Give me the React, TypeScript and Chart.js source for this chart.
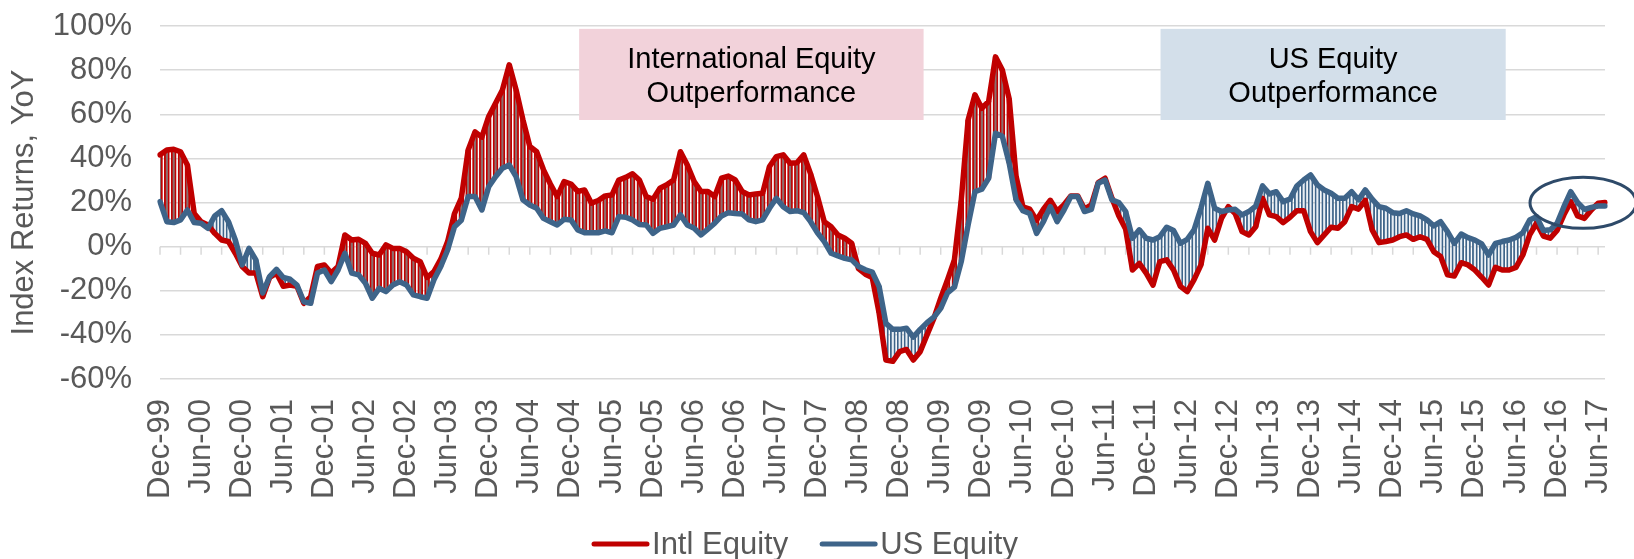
import React, { useEffect, useRef } from 'react';
import { Chart, registerables } from 'chart.js';

Chart.register(...registerables);

const FONT = '"Liberation Sans", Arial, sans-serif';
const TEXT_GRAY = '#595959';
const GRID_GRAY = '#D9D9D9';
const RED = '#C00000';
const BLUE = '#3E6489';

const monthNames = ['Jan', 'Feb', 'Mar', 'Apr', 'May', 'Jun', 'Jul', 'Aug', 'Sep', 'Oct', 'Nov', 'Dec'];

// Monthly categories, Dec-99 .. Jul-17
const categories: string[] = Array.from({ length: 212 }, (_, i) => {
  const k = 11 + i;
  return monthNames[k % 12] + '-' + String((99 + Math.floor(k / 12)) % 100).padStart(2, '0');
});

// Intl Equity YoY returns (%)
const intlEquity: number[] = [
  41.6, 43.8, 44.1, 43, 37, 15, 11.3, 9.8, 6, 3,
  2.3, -3, -9, -12, -12, -22.7, -14, -12, -18, -17.4,
  -18, -25.7, -22.7, -9, -8.3, -12, -9, 5.3, 3, 3.3,
  1.5, -3, -3.8, 0.8, -0.8, -0.8, -2.3, -5.3, -6.8, -14,
  -11.3, -5.7, 2.3, 15, 22, 43.8, 52, 49.6, 59, 65,
  71, 82.4, 71, 57.4, 45.4, 43, 34.8, 28.4, 22.7, 29.5,
  28.4, 25, 25.7, 19.7, 20.9, 23, 23.4, 30.2, 31.4, 33,
  30.2, 22.7, 21.5, 26.5, 28, 30.2, 43, 37, 29.5, 25,
  25, 22.7, 31, 32, 30.2, 25, 23.4, 23.9, 24.2, 36.3,
  40.8, 41.6, 37.8, 38, 41.6, 33, 22.7, 11.3, 9, 5.3,
  3.8, 1.5, -10, -12.5, -14, -30, -51.4, -52, -47.6, -46.6,
  -51.4, -47.6, -40, -32.5, -23.4, -15, -6, 21, 57.4, 68.8,
  62.7, 65.8, 86, 80, 67, 32, 18, 17, 12, 17,
  21, 16, 19, 23, 23, 17, 19, 29, 31, 22,
  14, 8, -10.6, -7.6, -12, -17.4, -6.8, -6, -10.6, -18,
  -20.4, -15, -8.3, 8.3, 3, 12.8, 18.1, 15, 6.8, 5.3,
  9, 21.9, 14.4, 13.6, 10.9, 13.3, 16.3, 16.3, 6.8, 1.8,
  5.3, 8.8, 8.3, 11.3, 18.1, 17, 21, 7.6, 1.8, 2.3,
  3, 4.5, 5.3, 3.3, 4.5, 3.3, -2.3, -4.5, -12.8, -13.3,
  -7.3, -8.3, -10.6, -13.9, -17.4, -9.4, -10.6, -10.6, -9.4, -3.8,
  5.3, 10.6, 4.8, 3.8, 7.3, 14.4, 20.4, 13.9, 12.8, 16.6,
  19.7, 20,
];

// US Equity YoY returns (%)
const usEquity: number[] = [
  20.4, 11.3, 10.9, 12.1, 16.6, 10.9, 10.6, 8.3, 13.9, 16.3,
  11.3, 3, -8.3, -0.8, -6, -21, -13.6, -10.3, -14, -14.8,
  -17.4, -25, -25.7, -12, -10.6, -15.9, -10.6, -3, -12, -12.8,
  -16.6, -23.4, -18.9, -20.4, -17.4, -15.9, -17.4, -21.9, -22.7, -23.4,
  -15, -9, -1.5, 9, 12, 22.7, 22.7, 16.6, 27.2, 31.7,
  35.5, 37, 31.7, 21.2, 18.9, 17.4, 12.8, 11.3, 9.8, 12.4,
  12.1, 7.6, 6.3, 6.3, 6.3, 7.1, 6.3, 13.6, 13.3, 12.1,
  10, 9.8, 6, 8.3, 9, 9.8, 14.4, 9.8, 8.3, 5.3,
  7.9, 10.6, 13.9, 15.4, 15, 14.8, 12.1, 11.3, 12.1, 17.4,
  21.9, 18.1, 15.9, 16.3, 15.4, 11.3, 6.3, 2.3, -3, -4.2,
  -5.3, -6, -9, -10.5, -11.5, -18, -34.8, -37.5, -37.5, -37,
  -41, -37.5, -34.5, -32, -28, -20.9, -18.4, -6.8, 9.8, 24.9,
  26, 31, 51.4, 50, 37.8, 21.2, 16.3, 15, 6, 11.3,
  18.1, 11.3, 16.6, 22.7, 22.7, 15.9, 16.9, 28.7, 30.2, 21.2,
  20, 16, 3.8, 7.6, 3.8, 3, 4.5, 8.8, 7.3, 1.5,
  3.3, 7.6, 17.4, 28.7, 17.4, 15.9, 16.6, 16.9, 14.4, 15.9,
  18.4, 27.5, 23.9, 24.9, 20.4, 21.5, 27.5, 30.2, 32.5, 28,
  25.7, 24.2, 21.9, 21.9, 24.9, 21.2, 25.7, 21.5, 18.1, 17.4,
  15.4, 15, 16.3, 14.8, 13.9, 12.1, 9.4, 11.3, 6.8, 1.5,
  5.7, 4.1, 3, 1.2, -3.8, 1.5, 2.3, 3, 4.2, 6.3,
  12.1, 13.6, 7.3, 7.6, 10.6, 18.1, 24.9, 20, 16.9, 17.8,
  18.4, 18.4,
];

const seriesNames = ['Intl Equity', 'US Equity'];
const yTicks = { min: -60, max: 100, step: 20 };

// Annotation boxes (in data units of the chart)
const annotationBoxes = [
  { lines: ['International Equity', 'Outperformance'], x0: 61.2, x1: 111.5, y0: 98.7, y1: 57.4, fill: '#F2D2DA' },
  { lines: ['US Equity', 'Outperformance'], x0: 146.1, x1: 196.5, y0: 98.7, y1: 57.4, fill: '#D3DFEA' },
];
const highlightEllipse = { x: 207.8, y: 19.9, dx: 7.75, dy: 11.6, color: '#2E4A69' };

const spread = intlEquity.map((v, i) => [Math.min(v, usEquity[i]), Math.max(v, usEquity[i])]);
const intlAbove = intlEquity.map((v, i) => v > usEquity[i]);

const decorPlugin = {
  id: 'decor',
  beforeDatasetsDraw(chart: any) {
    const { ctx, scales } = chart;
    const x = scales.x;
    const y = scales.y;
    ctx.save();
    annotationBoxes.forEach((b) => {
      const l = x.getPixelForValue(b.x0);
      const r = x.getPixelForValue(b.x1);
      const t = y.getPixelForValue(b.y0);
      const bt = y.getPixelForValue(b.y1);
      ctx.fillStyle = b.fill;
      ctx.fillRect(l, t, r - l, bt - t);
      ctx.fillStyle = '#000000';
      ctx.font = '29px ' + FONT;
      ctx.textAlign = 'center';
      ctx.textBaseline = 'alphabetic';
      const cx = (l + r) / 2;
      const cy = (t + bt) / 2;
      const capH = 0.716 * 29;
      const lh = 34;
      b.lines.forEach((s, k) => {
        ctx.fillText(s, cx, cy + capH / 2 + (k - (b.lines.length - 1) / 2) * lh);
      });
    });
    // tick marks on the zero axis, every 3 months
    const y0 = y.getPixelForValue(0);
    ctx.strokeStyle = GRID_GRAY;
    ctx.lineWidth = 1.5;
    ctx.beginPath();
    for (let i = 0; i < categories.length; i += 3) {
      const px = x.getPixelForValue(i);
      ctx.moveTo(px, y0);
      ctx.lineTo(px, y0 + 8);
    }
    ctx.stroke();
    ctx.restore();
  },
  afterDatasetsDraw(chart: any) {
    const { ctx, scales } = chart;
    const x = scales.x;
    const y = scales.y;
    const e = highlightEllipse;
    const cx = x.getPixelForValue(e.x);
    const cy = y.getPixelForValue(e.y);
    const rx = x.getPixelForValue(e.x + e.dx) - cx;
    const ry = cy - y.getPixelForValue(e.y + e.dy);
    ctx.save();
    ctx.strokeStyle = e.color;
    ctx.lineWidth = 3;
    ctx.beginPath();
    ctx.ellipse(cx, cy, rx, ry, 0, 0, Math.PI * 2);
    ctx.stroke();
    ctx.restore();
  },
  afterDraw(chart: any) {
    const { ctx } = chart;
    const colors = [RED, BLUE];
    ctx.save();
    ctx.font = '31px ' + FONT;
    const lineW = 57;
    const gapText = 3;
    const gapItem = 32;
    const widths = seriesNames.map((s) => ctx.measureText(s).width);
    const total = widths.reduce((a, w) => a + lineW + gapText + w, 0) + gapItem * (seriesNames.length - 1);
    let px = 805 - total / 2;
    const ly = 544;
    seriesNames.forEach((s, k) => {
      ctx.strokeStyle = colors[k];
      ctx.lineWidth = 5;
      ctx.lineCap = 'round';
      ctx.beginPath();
      ctx.moveTo(px + 2, ly);
      ctx.lineTo(px + lineW - 2, ly);
      ctx.stroke();
      px += lineW + gapText;
      ctx.fillStyle = TEXT_GRAY;
      ctx.textAlign = 'left';
      ctx.textBaseline = 'alphabetic';
      ctx.fillText(s, px, 554);
      px += widths[k] + gapItem;
    });
    ctx.restore();
  },
};

export default function App() {
  const ref = useRef<HTMLCanvasElement>(null);
  useEffect(() => {
    document.body.style.margin = '0';
    const chart = new Chart(ref.current as HTMLCanvasElement, {
      type: 'line',
      data: {
        labels: categories,
        datasets: [
          {
            type: 'line',
            label: seriesNames[1],
            data: usEquity,
            borderColor: BLUE,
            borderWidth: 5.5,
            pointRadius: 0,
            tension: 0,
            borderJoinStyle: 'round',
            borderCapStyle: 'round',
            fill: false,
            order: 1,
          },
          {
            type: 'line',
            label: seriesNames[0],
            data: intlEquity,
            borderColor: RED,
            borderWidth: 5.5,
            pointRadius: 0,
            tension: 0,
            borderJoinStyle: 'round',
            borderCapStyle: 'round',
            fill: false,
            order: 2,
          },
          {
            type: 'bar',
            label: 'spread',
            data: spread as any,
            backgroundColor: intlAbove.map((a) => (a ? '#8C6E6E' : '#E8EEF4')),
            borderColor: intlAbove.map((a) => (a ? RED : BLUE)),
            borderWidth: 1.8,
            borderSkipped: false,
            barThickness: 5,
            order: 3,
          } as any,
        ],
      },
      options: {
        responsive: false,
        animation: false,
        events: [],
        layout: { padding: { left: 0, right: 29, top: 26, bottom: 0 } },
        plugins: { legend: { display: false }, tooltip: { enabled: false } },
        scales: {
          x: {
            type: 'category',
            offset: false,
            grid: { display: false, offset: false, drawTicks: false },
            border: { display: false },
            ticks: {
              autoSkip: false,
              minRotation: 90,
              maxRotation: 90,
              padding: 20,
              color: TEXT_GRAY,
              font: { family: FONT, size: 31 },
              callback: function (this: any, val: any, index: number) {
                return index % 6 === 0 ? categories[index] : '';
              },
            },
            afterFit: (scale: any) => {
              scale.height = 180;
              scale.paddingLeft = 0;
              scale.paddingRight = 0;
            },
          },
          y: {
            min: yTicks.min,
            max: yTicks.max,
            grid: { color: GRID_GRAY, lineWidth: 1.5, drawTicks: false },
            border: { display: false },
            ticks: {
              stepSize: yTicks.step,
              padding: 28,
              color: TEXT_GRAY,
              font: { family: FONT, size: 31 },
              callback: (v: any) => v + '%',
            },
            title: {
              display: true,
              text: 'Index Returns, YoY',
              color: TEXT_GRAY,
              font: { family: FONT, size: 31 },
              padding: { top: 6, bottom: 0 },
            },
            afterFit: (scale: any) => {
              scale.width = 160;
              scale.paddingTop = 0;
              scale.paddingBottom = 0;
            },
          },
        },
      },
      plugins: [decorPlugin],
    } as any);
    return () => chart.destroy();
  }, []);
  return (
    <div style={{ position: 'absolute', left: 0, top: 0, width: 1634, height: 559 }}>
      <canvas ref={ref} width={1634} height={559} style={{ display: 'block', width: 1634, height: 559 }} />
    </div>
  );
}
